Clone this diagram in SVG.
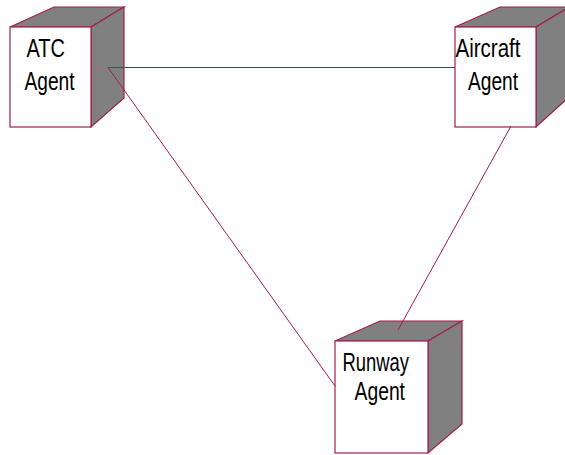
<svg xmlns="http://www.w3.org/2000/svg" width="565" height="455" viewBox="0 0 565 455">
<style>
.edge{stroke:#A01E4E;stroke-width:1;fill:none}
.front{fill:#ffffff;stroke:#A01E4E;stroke-width:1.2}
.side{fill:#808080;stroke:#A01E4E;stroke-width:1.2;stroke-linejoin:miter}
.lbl{font-family:"Liberation Sans",Arial,sans-serif;font-size:25px;fill:#000}
</style>
<rect width="565" height="455" fill="#ffffff"/>
<g id="atc">
<polygon class="side" points="10,27 54,7 124,7 91,27"/>
<polygon class="side" points="91,27 124,7 124,98 91,127"/>
<rect class="front" x="10" y="27" width="81" height="100"/>
<text class="lbl" x="26.5" y="57" textLength="38.5" lengthAdjust="spacingAndGlyphs">ATC</text>
<text class="lbl" x="24.5" y="89.5" textLength="50" lengthAdjust="spacingAndGlyphs">Agent</text>
</g>
<g id="aircraft">
<polygon class="side" points="455,27 500,7 569,7 536,27"/>
<polygon class="side" points="536,27 569,7 569,97 536,127"/>
<rect class="front" x="455" y="27" width="81" height="100"/>
<text class="lbl" x="455.5" y="57" textLength="65" lengthAdjust="spacingAndGlyphs">Aircraft</text>
<text class="lbl" x="468" y="89.5" textLength="50" lengthAdjust="spacingAndGlyphs">Agent</text>
</g>
<g id="runway">
<polygon class="side" points="335,341 380,321 462,321 428,341"/>
<polygon class="side" points="428,341 462,321 462,424 428,453"/>
<rect class="front" x="335" y="341" width="93" height="112"/>
<text class="lbl" x="342.5" y="371" textLength="66.5" lengthAdjust="spacingAndGlyphs">Runway</text>
<text class="lbl" x="354.5" y="400" textLength="50.5" lengthAdjust="spacingAndGlyphs">Agent</text>
</g>
<g id="connectors">
<line class="edge" x1="108" y1="67.5" x2="455" y2="67.5"/>
<line class="edge" x1="108" y1="67.5" x2="335" y2="386"/>
<line class="edge" x1="511" y1="126" x2="398" y2="330"/>
</g>
</svg>
